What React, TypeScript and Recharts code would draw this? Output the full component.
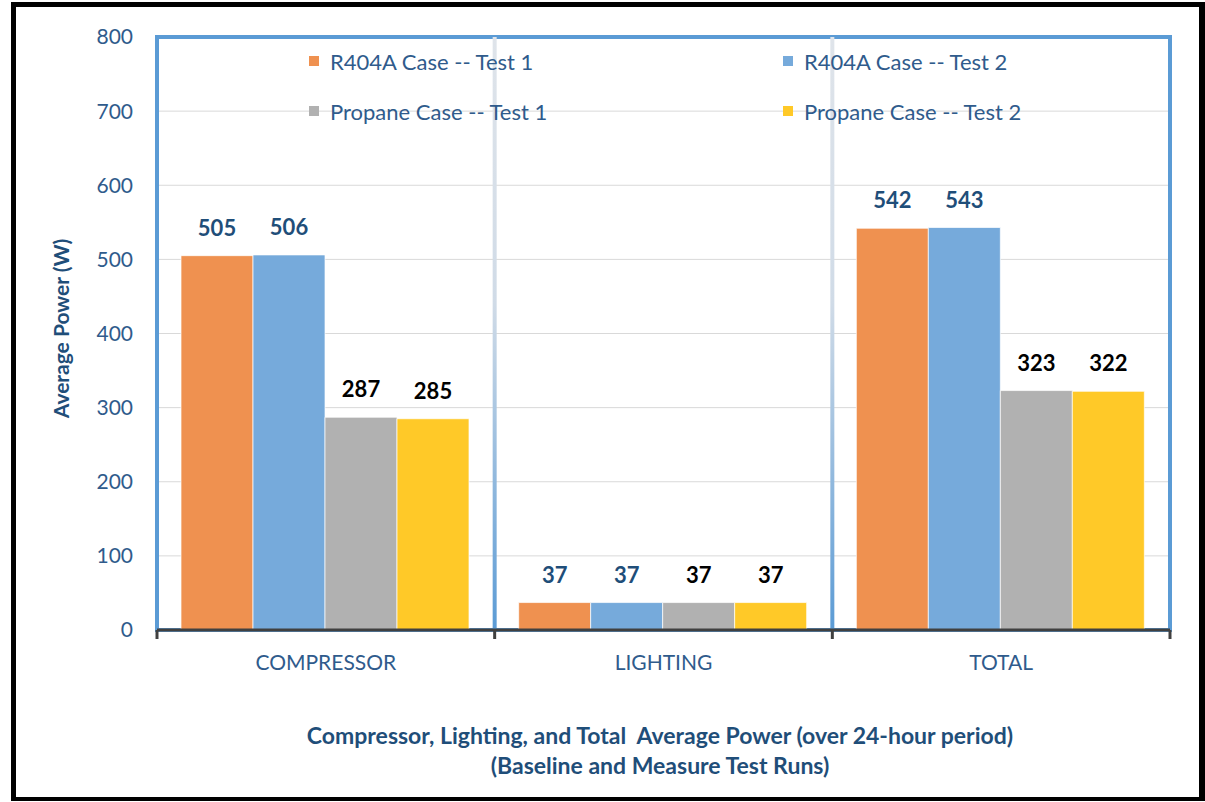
import { BarChart, Bar, XAxis, YAxis, CartesianGrid, Legend, LabelList, ReferenceArea, ReferenceLine, Label } from 'recharts';

const categories = ['COMPRESSOR', 'LIGHTING', 'TOTAL'];
const r404aTest1 = [505, 37, 542];
const r404aTest2 = [506, 37, 543];
const propaneTest1 = [287, 37, 323];
const propaneTest2 = [285, 37, 322];
const yTicks = [0, 100, 200, 300, 400, 500, 600, 700, 800];

const seriesNames = ['R404A Case -- Test 1', 'R404A Case -- Test 2', 'Propane Case -- Test 1', 'Propane Case -- Test 2'];
const seriesKeys = ['r1', 'r2', 'p1', 'p2'];
const seriesColors = ['#ef9150', '#76aadb', '#b1b1b1', '#ffc928'];
const labelColors = ['#1f4e79', '#1f4e79', '#000000', '#000000'];

const data = categories.map((name, i) => ({
  name,
  r1: r404aTest1[i],
  r2: r404aTest2[i],
  p1: propaneTest1[i],
  p2: propaneTest2[i],
}));

const TEXT_BLUE = '#2f5b8c';
const TITLE_BLUE = '#1f4e79';
const AXIS_DARK = '#404040';
const PLOT_TOP = 37;
const PLOT_BOTTOM = 630;
const CAT_TICK_MARGIN = 25;

function renderLegend(props: any) {
  const items = [...(props.payload || [])].sort(
    (a: any, b: any) => seriesNames.indexOf(a.value) - seriesNames.indexOf(b.value)
  );
  return (
    <div style={{ display: 'grid', gridTemplateColumns: '474px 300px' }}>
      {items.map((entry: any) => (
        <div key={entry.value} style={{ display: 'flex', alignItems: 'center', height: 50, color: TEXT_BLUE, fontSize: 22, whiteSpace: 'nowrap' }}>
          <span style={{ display: 'inline-block', width: 10, height: 10, background: entry.color, marginRight: 11 }} />
          {entry.value}
        </div>
      ))}
    </div>
  );
}

function renderYLabel(props: any) {
  const vb = props.viewBox || { x: 0, y: 0, width: 0, height: 0 };
  const cx = vb.x + 60;
  const cy = vb.y + vb.height / 2 - 5;
  return (
    <text x={cx} y={cy} transform={`rotate(-90 ${cx} ${cy})`} textAnchor="middle" dominantBaseline="central"
      fill={TITLE_BLUE} fontSize={21} fontWeight="bold">
      Average Power (W)
    </text>
  );
}

// category label plus the tick marks on the band edges (Excel-style)
function CategoryTick(props: any) {
  const { x, y, payload, index, width } = props;
  const count = props.visibleTicksCount || categories.length;
  const half = width / count / 2;
  const axisY = y - CAT_TICK_MARGIN;
  return (
    <g>
      <line x1={x - half} x2={x - half} y1={axisY} y2={axisY + 9} stroke={AXIS_DARK} strokeWidth={3} />
      {index === count - 1 && (
        <line x1={x + half} x2={x + half} y1={axisY} y2={axisY + 9} stroke={AXIS_DARK} strokeWidth={3} />
      )}
      <text x={x} y={y} dy="0.71em" textAnchor="middle" fill={TEXT_BLUE} fontSize={21}>
        {payload.value}
      </text>
    </g>
  );
}

export default function App() {
  return (
    <div style={{ position: 'absolute', left: 0, top: 0, width: 1205, height: 802, background: '#fff', fontFamily: 'Lato, sans-serif' }}>
      <div style={{ position: 'absolute', left: 11, top: 2, width: 1194, height: 799, border: '5px solid #000', borderRightWidth: 6, borderBottomWidth: 4, boxSizing: 'border-box' }} />
      <div style={{ position: 'absolute', left: 0, top: 0 }}>
        <BarChart width={1205} height={802} data={data} margin={{ top: PLOT_TOP, right: 35, left: 0, bottom: 122 }}
          barCategoryGap={24} barGap={0}>
          <defs>
            <linearGradient id="sepGrad" gradientUnits="userSpaceOnUse" x1="0" y1={PLOT_TOP} x2="0" y2={PLOT_BOTTOM}>
              <stop offset="0" stopColor="#dfe4ea" />
              <stop offset="0.45" stopColor="#d0dbe7" />
              <stop offset="1" stopColor="#5b9bd5" />
            </linearGradient>
          </defs>
          <CartesianGrid vertical={false} stroke="#d9d9d9" strokeWidth={1} />
          <XAxis dataKey="name" height={50} axisLine={{ stroke: AXIS_DARK, strokeWidth: 3 }} tickLine={false}
            tickSize={0} tickMargin={CAT_TICK_MARGIN} tick={<CategoryTick />} interval={0} />
          <YAxis domain={[0, 800]} ticks={yTicks} width={157} axisLine={false} tickLine={false} tickSize={6} tickMargin={18}
            tick={{ fill: TEXT_BLUE, fontSize: 21 }} interval={0}>
            <Label content={renderYLabel} />
          </YAxis>
          {categories.slice(1).map((c) => (
            <ReferenceLine key={c} x={c} position="start" stroke="url(#sepGrad)" strokeWidth={4} />
          ))}
          <ReferenceArea x1={categories[0]} x2={categories[categories.length - 1]} y1={0} y2={800}
            ifOverflow="visible" fill="none" fillOpacity={0} stroke="#5b9bd5" strokeOpacity={1} strokeWidth={4} />
          <Legend verticalAlign="middle" align="center" layout="horizontal" content={renderLegend}
            wrapperStyle={{ left: 309, top: 36, width: 780 }} />
          {seriesKeys.map((key, i) => (
            <Bar key={key} dataKey={key} name={seriesNames[i]} fill={seriesColors[i]}
              stroke="#ffffff" strokeOpacity={0.7} strokeWidth={1} isAnimationActive={false}>
              <LabelList dataKey={key} position="top" offset={20} fill={labelColors[i]} fontSize={22} fontWeight="bold" />
            </Bar>
          ))}
        </BarChart>
      </div>
      <div style={{ position: 'absolute', left: 160, top: 720, width: 1000, textAlign: 'center', color: TITLE_BLUE, fontSize: 23, fontWeight: 'bold', lineHeight: '30px' }}>
        <div>Compressor, Lighting, and Total&nbsp; Average Power (over 24-hour period)</div>
        <div>(Baseline and Measure Test Runs)</div>
      </div>
    </div>
  );
}
